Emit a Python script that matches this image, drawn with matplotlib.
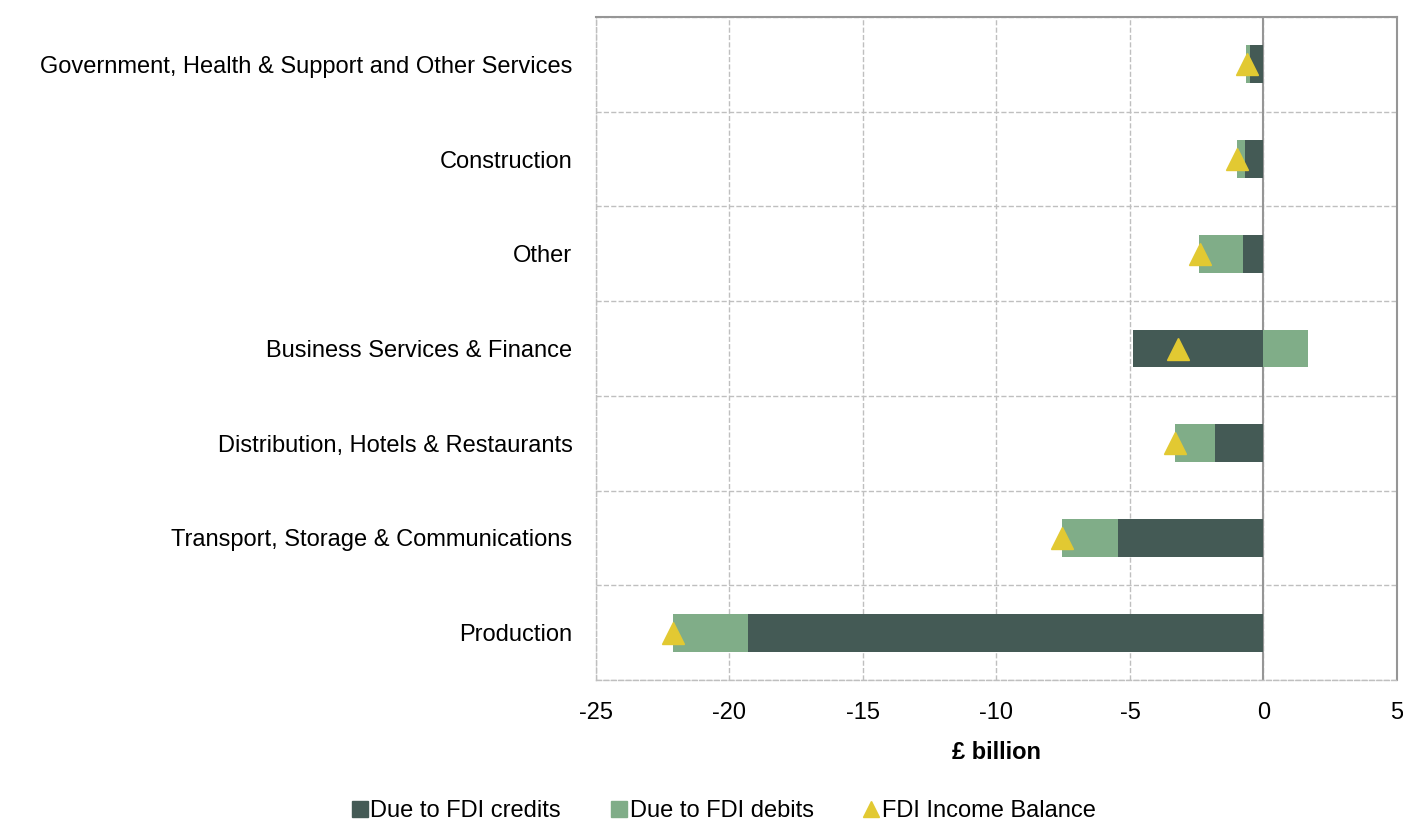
import matplotlib.pyplot as plt
import numpy as np
from matplotlib.lines import Line2D
from matplotlib.ticker import FuncFormatter

plt.rcParams['font.family'] = ['Liberation Sans', 'DejaVu Sans']

categories = ["Government, Health & Support and Other Services", "Construction", "Other",
              "Business Services & Finance", "Distribution, Hotels & Restaurants",
              "Transport, Storage & Communications", "Production"]
credits = [-0.52, -0.71, -0.77, -4.89, -1.81, -5.43, -19.3]
debits = [-0.13, -0.28, -1.65, 1.68, -1.50, -2.12, -2.80]
balance = [-0.6, -1.0, -2.37, -3.2, -3.3, -7.55, -22.1]

col_cr = '#445A55'
col_db = '#80AD88'
col_bal = '#E2C932'
grid_col = '#BFBFBF'

fig = plt.figure(figsize=(14.03, 8.22), dpi=100)
ax = fig.add_axes([0.4248, 0.1727, 0.5709, 0.8066])

y = np.arange(len(categories))
h = 0.4
ax.barh(y, credits, height=h, color=col_cr, zorder=3)
# debits stack on the same side as credits when negative
left_db = [c if d < 0 else 0 for c, d in zip(credits, debits)]
ax.barh(y, debits, left=left_db, height=h, color=col_db, zorder=3)
ax.plot(balance, y, linestyle='none', marker='^', markersize=16, color=col_bal, zorder=4)

ax.set_xlim(-25, 5)
ax.set_ylim(len(categories) - 0.5, -0.5)
ax.set_xticks(np.arange(-25, 6, 5))
ax.xaxis.set_major_formatter(FuncFormatter(lambda v, p: '%d' % v))
ax.set_yticks(y)
ax.set_yticklabels(categories, fontsize=17)
ax.set_yticks(np.arange(-0.5, len(categories), 1), minor=True)
ax.tick_params(axis='y', which='both', length=0, pad=17)
ax.tick_params(axis='x', length=0, labelsize=17, pad=16)
ax.set_xlabel('£ billion', fontsize=17, fontweight='bold', labelpad=12)

ax.grid(axis='x', which='major', color=grid_col, linestyle='--', linewidth=1, zorder=0)
ax.grid(axis='y', which='minor', color=grid_col, linestyle='--', linewidth=1, zorder=0)
ax.axvline(0, color='#969696', linewidth=1.5, zorder=2)

for s in ['left', 'bottom']:
    ax.spines[s].set_color(grid_col)
    ax.spines[s].set_linestyle('--')
    ax.spines[s].set_linewidth(1)
for s in ['top', 'right']:
    ax.spines[s].set_color('#969696')
    ax.spines[s].set_linewidth(1.5)

handles = [Line2D([], [], linestyle='none', marker='s', markersize=11, color=col_cr),
           Line2D([], [], linestyle='none', marker='s', markersize=11, color=col_db),
           Line2D([], [], linestyle='none', marker='^', markersize=11, color=col_bal)]
labels = ['Due to FDI credits', 'Due to FDI debits', 'FDI Income Balance']
fig.legend(handles, labels, loc='center', bbox_to_anchor=(0.515, 0.013), ncol=3, frameon=False,
           fontsize=17, handletextpad=0.0, columnspacing=2.0, handlelength=0.9)

fig.savefig('out.png', dpi=100)
